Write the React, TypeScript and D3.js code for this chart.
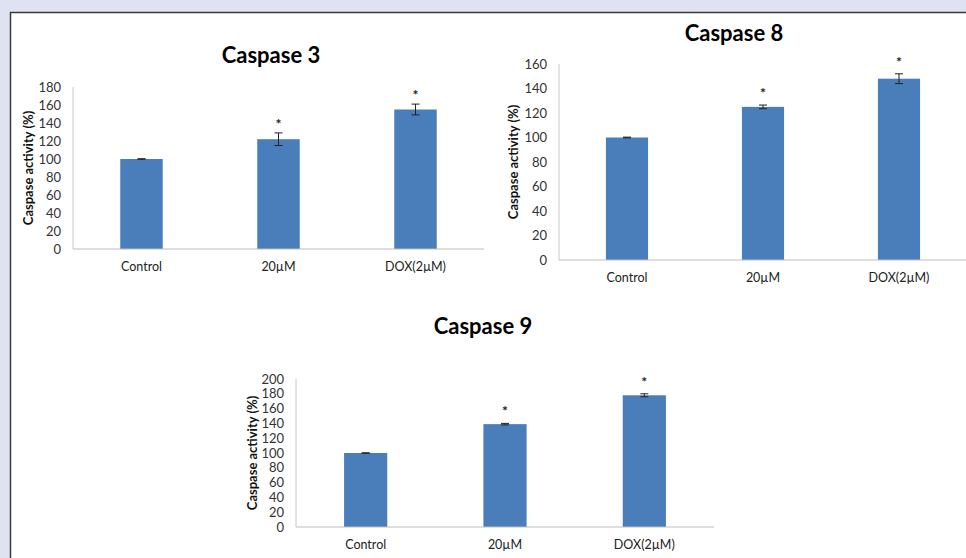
import React from "react";
import * as d3 from "d3";

const categories = ["Control", "20µM", "DOX(2µM)"];
const caspase3Values = [100, 122, 155];
const caspase3Errors = [0.3, 7, 6];
const caspase8Values = [100, 125, 148];
const caspase8Errors = [0.3, 1.5, 4];
const caspase9Values = [100, 139, 178];
const caspase9Errors = [0.3, 1, 2];
const significant = [false, true, true];
const caspase3Ticks = [0, 20, 40, 60, 80, 100, 120, 140, 160, 180];
const caspase8Ticks = [0, 20, 40, 60, 80, 100, 120, 140, 160];
const caspase9Ticks = [0, 20, 40, 60, 80, 100, 120, 140, 160, 180, 200];

const FONT = "Lato, 'Open Sans', sans-serif";
const BAR = "#4a7ebb";

type ChartProps = {
  title: string;
  values: number[];
  errors: number[];
  ticks: number[];
  x0: number;
  x1: number;
  y0: number;
  y1: number;
  titleX: number;
  titleY: number;
  ylabelX: number;
  tickFont: number;
  starGap: number;
};

function Chart(p: ChartProps) {
  const maxV = p.ticks[p.ticks.length - 1];
  const y = d3.scaleLinear().domain([0, maxV]).range([p.y0, p.y1]);
  const x = d3.scaleBand().domain(categories).range([p.x0, p.x1]).paddingInner(0.69).paddingOuter(0.345);
  const bw = x.bandwidth();
  const midY = (p.y0 + p.y1) / 2;
  return (
    <g>
      <text x={p.titleX} y={p.titleY} textAnchor="middle" fontFamily={FONT} fontWeight="bold" fontSize={22} fill="#000">
        {p.title}
      </text>
      {p.ticks.map((t) => (
        <text key={t} x={p.x0 - 12} y={y(t)} dy="0.35em" textAnchor="end" fontFamily={FONT} fontSize={p.tickFont} fill="#333">
          {t}
        </text>
      ))}
      <text
        transform={`translate(${p.ylabelX},${midY}) rotate(-90)`}
        textAnchor="middle"
        dy="0.35em"
        fontFamily={FONT}
        fontWeight="bold"
        fontSize={13}
        fill="#111"
      >
        Caspase activity (%)
      </text>
      {categories.map((c, i) => {
        const bx = x(c)!;
        const cx = bx + bw / 2;
        const v = p.values[i];
        const e = p.errors[i];
        return (
          <g key={c}>
            <rect x={bx} y={y(v)} width={bw} height={p.y0 - y(v)} fill={BAR} />
            <line x1={cx} x2={cx} y1={y(v + e)} y2={y(v - e)} stroke="#222" strokeWidth={1} />
            <line x1={cx - 4} x2={cx + 4} y1={y(v + e)} y2={y(v + e)} stroke="#222" strokeWidth={1} />
            <line x1={cx - 4} x2={cx + 4} y1={y(v - e)} y2={y(v - e)} stroke="#222" strokeWidth={1} />
            {significant[i] && (
              <text x={cx} y={y(v + e) - p.starGap} textAnchor="middle" fontFamily={FONT} fontWeight="bold" fontSize={14} fill="#222">
                *
              </text>
            )}
            <text x={cx} y={p.y0 + 18} dy="0.35em" textAnchor="middle" fontFamily={FONT} fontSize={12.5} fill="#222">
              {c}
            </text>
          </g>
        );
      })}
      <line x1={p.x0} x2={p.x0} y1={p.y1} y2={p.y0} stroke="#c8c8c8" strokeWidth={1} />
      <line x1={p.x0} x2={p.x1} y1={p.y0} y2={p.y0} stroke="#bdbdbd" strokeWidth={1} />
    </g>
  );
}

export default function App() {
  return (
    <svg width={966} height={558} style={{ position: "absolute", left: 0, top: 0, display: "block" }}>
      <rect x={0} y={0} width={966} height={558} fill="#dfe3f1" />
      <rect x={10.5} y={12.5} width={1000} height={600} fill="#fff" stroke="#3a3a3a" strokeWidth={1.5} />
      <Chart
        title="Caspase 3"
        values={caspase3Values}
        errors={caspase3Errors}
        ticks={caspase3Ticks}
        x0={73}
        x1={484}
        y0={249}
        y1={87}
        titleX={271}
        titleY={63}
        ylabelX={28}
        tickFont={13}
        starGap={4}
      />
      <Chart
        title="Caspase 8"
        values={caspase8Values}
        errors={caspase8Errors}
        ticks={caspase8Ticks}
        x0={559}
        x1={967}
        y0={260}
        y1={64}
        titleX={734}
        titleY={41}
        ylabelX={513}
        tickFont={13}
        starGap={7}
      />
      <Chart
        title="Caspase 9"
        values={caspase9Values}
        errors={caspase9Errors}
        ticks={caspase9Ticks}
        x0={296}
        x1={714}
        y0={527}
        y1={379}
        titleX={483}
        titleY={334}
        ylabelX={252}
        tickFont={13}
        starGap={7}
      />
    </svg>
  );
}
